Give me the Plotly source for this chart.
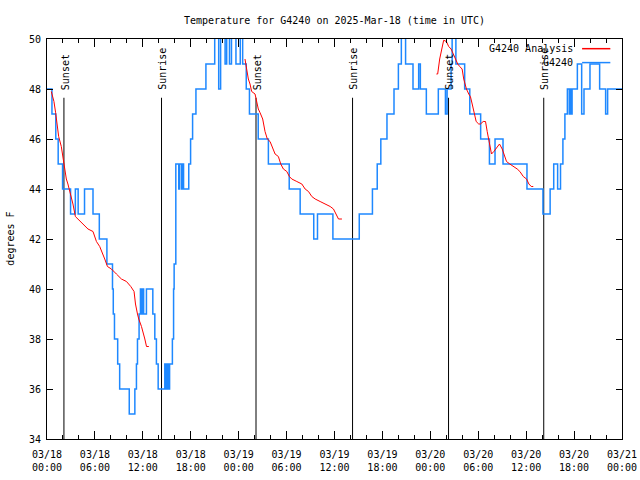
import pandas as pd
import plotly.graph_objects as go

BASE = pd.Timestamp("2025-03-18 00:00")

# Observed G4240 temperature (step changes): hours since 03/18 00:00 UTC, degrees F
obs_hours = [0.0, 0.62, 1.1, 1.4, 1.95, 2.95, 3.55, 3.9, 4.7, 5.76, 6.55, 7.5,
             8.2, 8.3, 8.45, 8.85, 9.1, 10.3, 11.0, 11.2, 11.33, 11.53, 11.7,
             11.85, 11.95, 12.1, 12.45, 13.25, 13.5, 13.7, 13.92, 14.75, 14.9,
             15.05, 15.2, 15.35, 15.7, 15.85, 15.92, 16.13, 16.5, 16.6, 16.85,
             16.95, 17.1, 17.75, 17.98, 18.23, 18.65, 19.9, 21.0, 21.5, 21.74,
             22.3, 22.5, 22.85, 23.1, 23.66, 24.2, 24.5, 24.95, 25.35, 26.45,
             27.72, 30.33, 31.7, 33.4, 33.87, 35.8, 39.1, 40.75, 41.35, 41.8,
             42.57, 43.45, 44.0, 44.37, 44.9, 45.83, 46.54, 46.75, 47.5, 49.0,
             49.89, 50.1, 50.6, 50.73, 51.2, 52.3, 52.94, 54.3, 55.4, 56.1,
             57.1, 60.1, 62.1, 63.0, 63.45, 63.94, 64.3, 64.6, 64.85, 65.16,
             65.4, 65.5, 65.65, 65.75, 66.41, 66.95, 67.24, 67.99, 69.2, 69.95,
             70.2, 72.0]
obs_temps = [48, 47, 46, 45, 44, 43, 44, 43, 44, 43, 42, 41,
             40, 39, 38, 37, 36, 35, 36, 37, 38, 39, 40,
             39, 40, 39, 40, 39, 38, 37, 36, 37, 36,
             37, 36, 37, 38, 40, 41, 45, 44, 45, 44,
             45, 44, 45, 46, 47, 48, 49, 51, 48, 51,
             49, 51, 49, 51, 49, 51, 49, 48, 47, 46,
             45, 44, 43, 42, 43, 42, 43, 44, 45, 46,
             47, 48, 49, 51, 49, 48, 49, 48, 47, 48,
             47, 48, 49, 51, 49, 48, 47, 46, 45, 46,
             45, 44, 43, 44, 45, 44, 45, 46, 47, 48,
             47, 48, 47, 48, 49, 47, 48, 49, 48, 47,
             48, 48]

# Analysis series (three 12-hour segments, None = gap)
ana_hours = [0.54, 0.87, 1.08, 1.29, 1.46, 1.79, 2.0, 2.21, 2.42, 2.62, 2.96,
             3.25, 3.55, 3.88, 4.5, 5.13, 5.76, 6.19, 6.6, 7.01, 7.23, 7.57,
             8.07, 8.69, 9.32, 9.95, 10.49, 10.9, 11.08, 11.33, 11.49, 11.83,
             12.03, 12.25, 12.46, 12.75, None,
             24.79, 25.01, 25.21, 25.42, 25.63, 26.05, 26.26, 26.46, 26.68,
             27.01, 27.3, 27.59, 27.93, 28.27, 28.56, 28.97, 29.27, 29.6,
             30.03, 30.35, 30.65, 31.28, 31.91, 32.32, 32.74, 33.16, 33.58,
             34.2, 34.83, 35.46, 35.87, 36.21, 36.5, 36.93, None,
             48.76, 48.92, 49.17, 49.47, 49.67, 50.01, 50.3, 50.6, 50.85,
             51.14, 51.43, 51.68, 51.98, 52.18, 52.52, 52.81, 53.02, 53.24,
             53.44, 53.74, 54.06, 54.28, 54.62, 54.91, 55.12, 55.32, 55.53,
             55.66, 55.95, 56.37, 56.66, 57.0, 57.2, 57.54, 57.95, 58.46,
             58.88, 59.21, 59.64, 60.05, 60.34, 60.64, 60.89]
ana_temps = [47.9, 47.5, 47.05, 46.5, 46.1, 45.7, 45.3, 44.8, 44.4, 44.2, 43.8,
             43.4, 42.9, 42.8, 42.6, 42.4, 42.3, 41.9, 41.7, 41.4, 41.2, 40.9,
             40.8, 40.6, 40.4, 40.3, 40.1, 39.9, 39.4, 39.0, 38.8, 38.5,
             38.3, 38.0, 37.7, 37.7, None,
             49.2, 48.8, 48.4, 48.2, 47.9, 47.8, 47.5, 47.2, 47.05,
             46.8, 46.3, 46.0, 45.9, 45.6, 45.4, 45.3, 45.0, 44.8,
             44.7, 44.5, 44.4, 44.3, 44.2, 44.0, 43.9, 43.7, 43.6,
             43.5, 43.4, 43.3, 43.2, 43.0, 42.8, 42.8, None,
             48.6, 48.6, 49.2, 49.7, 49.95, 49.9, 49.7, 49.6, 49.4,
             49.2, 49.0, 48.9, 48.8, 48.4, 48.0, 47.8, 47.7, 47.4,
             47.1, 46.7, 46.6, 46.6, 46.7, 46.7, 46.3, 45.9, 45.6,
             45.4, 45.5, 45.7, 45.8, 45.6, 45.4, 45.1, 45.0, 44.9,
             44.8, 44.7, 44.5, 44.4, 44.2, 44.1, 44.1]

sun_hours = [2.12, 14.34, 26.17, 38.26, 50.28, 62.2]
sun_labels = ["Sunset", "Sunrise", "Sunset", "Sunrise", "Sunset", "Sunrise"]

y_min, y_max = 34, 50
sun_line_top = 47.65
x_end_hours = 72


def to_time(hours):
    return [None if h is None else BASE + pd.Timedelta(hours=h) for h in hours]


FONT = "DejaVu Sans Mono"
BLUE = "#1e88ff"

fig = go.Figure()

for h in sun_hours:
    t = BASE + pd.Timedelta(hours=h)
    fig.add_trace(go.Scatter(x=[t, t], y=[y_min, sun_line_top], mode="lines",
                             line=dict(color="black", width=1),
                             hoverinfo="skip", showlegend=False))

fig.add_trace(go.Scatter(x=to_time(obs_hours), y=obs_temps, mode="lines",
                         line=dict(color=BLUE, width=1.5, shape="hv"),
                         name="G4240", showlegend=False))
fig.add_trace(go.Scatter(x=to_time(ana_hours), y=ana_temps, mode="lines",
                         line=dict(color="red", width=1),
                         name="G4240 Analysis", showlegend=False,
                         connectgaps=False))

annotations = []
for h, lab in zip(sun_hours, sun_labels):
    annotations.append(dict(x=BASE + pd.Timedelta(hours=h), y=47.87,
                            xref="x", yref="y", text=lab, textangle=-90,
                            showarrow=False, xanchor="center", yanchor="bottom",
                            xshift=1, font=dict(family=FONT, size=10, color="black")))

# legend (text left of sample line, as in the reference)
legend_items = [("G4240 Analysis", "red", 0.9758), ("G4240", BLUE, 0.941)]
shapes = []
for name, col, yp in legend_items:
    annotations.append(dict(x=0.919, y=yp, xref="paper", yref="paper", text=name,
                            showarrow=False, xanchor="right", yanchor="middle",
                            font=dict(family=FONT, size=10, color="black")))
    shapes.append(dict(type="line", xref="paper", yref="paper",
                       x0=0.9306, x1=0.9797, y0=yp, y1=yp,
                       line=dict(color=col, width=1.5)))

annotations.append(dict(x=-0.065, y=0.5, xref="paper", yref="paper",
                        text="degrees F", textangle=-90, showarrow=False,
                        xanchor="center", yanchor="middle",
                        font=dict(family=FONT, size=10, color="black")))

fig.update_layout(
    width=640, height=480,
    margin=dict(l=47, r=18, t=39, b=41, autoexpand=False),
    paper_bgcolor="white", plot_bgcolor="white",
    font=dict(family=FONT, size=10, color="black"),
    title=dict(text="Temperature for G4240 on 2025-Mar-18 (time in UTC)",
               x=0.5, xref="paper", y=0.958, yanchor="middle",
               font=dict(family=FONT, size=10, color="black")),
    annotations=annotations, shapes=shapes,
    showlegend=False,
)
fig.update_xaxes(
    type="date", automargin=False,
    range=[BASE, BASE + pd.Timedelta(hours=x_end_hours)],
    tick0=BASE, dtick=6 * 3600 * 1000,
    tickformat="%m/%d<br>%H:%M",
    ticks="inside", ticklen=8, tickcolor="black", tickwidth=1,
    ticklabelstandoff=6,
    minor=dict(dtick=2 * 3600 * 1000, ticks="inside", ticklen=4,
               tickcolor="black", showgrid=False),
    showline=True, linecolor="black", linewidth=1, mirror="ticks",
    showgrid=False, zeroline=False,
    tickfont=dict(family=FONT, size=10, color="black"),
)
fig.update_yaxes(
    range=[y_min, y_max], dtick=2, automargin=False,
    ticks="inside", ticklen=6, tickcolor="black", tickwidth=1,
    ticklabelstandoff=3,
    showline=True, linecolor="black", linewidth=1, mirror="ticks",
    showgrid=False, zeroline=False,
    tickfont=dict(family=FONT, size=10, color="black"),
)

fig.write_html("out.html", config={"displayModeBar": False},
               post_script="document.body.style.margin='0';"
                           "document.body.style.padding='0';")
